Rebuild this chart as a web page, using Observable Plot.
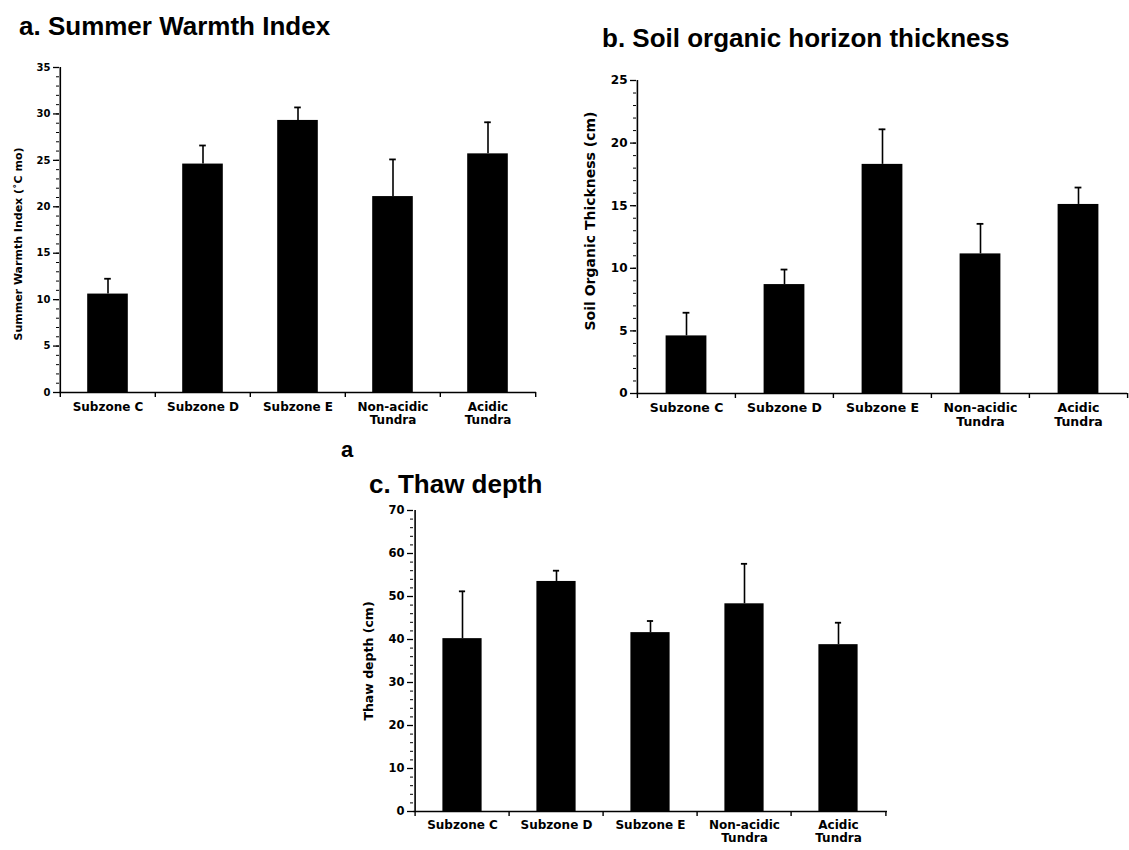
<!DOCTYPE html>
<html><head><meta charset="utf-8">
<script src="https://cdn.jsdelivr.net/npm/d3@7"></script>
<script src="https://cdn.jsdelivr.net/npm/@observablehq/plot@0.6"></script>
<style>
body{margin:0;background:#fff;width:1129px;height:850px;position:relative;overflow:hidden;font-family:"Liberation Sans",Arial,Helvetica,sans-serif;}
.title{position:absolute;font-weight:bold;font-size:26px;color:#000;white-space:nowrap;line-height:1;}
.panel{position:absolute;}
</style></head><body>
<div class="title" style="left:19px;top:13px">a. Summer Warmth Index</div>
<div class="title" style="left:602px;top:25px">b. Soil organic horizon thickness</div>
<div class="title" style="left:369px;top:471px">c. Thaw depth</div>
<div class="title" style="left:341px;top:439px;font-size:22px">a</div>
<div class="panel" id="pa" style="left:0px;top:40px"></div>
<div class="panel" id="pb" style="left:570px;top:60px"></div>
<div class="panel" id="pc" style="left:350px;top:495px"></div>
<script>
const categories = ["Subzone C", "Subzone D", "Subzone E", "Non-acidic Tundra", "Acidic Tundra"];
const categoryLabels = ["Subzone C", "Subzone D", "Subzone E", "Non-acidic\nTundra", "Acidic\nTundra"];

const swiMean = [10.6, 24.6, 29.3, 21.1, 25.7];
const swiErr = [1.65, 2.0, 1.4, 4.0, 3.4];
const swiTicks = [0, 5, 10, 15, 20, 25, 30, 35];

const soilMean = [4.6, 8.7, 18.3, 11.15, 15.1];
const soilErr = [1.85, 1.2, 2.8, 2.4, 1.35];
const soilTicks = [0, 5, 10, 15, 20, 25];

const thawMean = [40.2, 53.5, 41.6, 48.3, 38.8];
const thawErr = [11.0, 2.5, 2.7, 9.3, 5.1];
const thawTicks = [0, 10, 20, 30, 40, 50, 60, 70];

const FONT = "'DejaVu Sans', Verdana, sans-serif";

function panel(o) {
  const n = categories.length;
  const step = (o.width - o.marginLeft - o.marginRight) / n;
  const data = categories.map((c, i) => ({cat: c, label: categoryLabels[i], mean: o.mean[i], err: o.err[i]}));
  const yMax = o.ticks[o.ticks.length - 1];
  const minor = d3.range(0, yMax + 1e-9, o.minorStep);
  const barInset = (step - o.barWidth) / 2;
  return Plot.plot({
    width: o.width, height: o.height,
    marginLeft: o.marginLeft, marginRight: o.marginRight,
    marginTop: o.marginTop, marginBottom: o.marginBottom,
    style: {fontFamily: FONT, fontWeight: "bold", color: "#000", background: "transparent"},
    x: {domain: categories, padding: 0, axis: null},
    y: {domain: [0, yMax], axis: null},
    marks: [
      Plot.axisY({ticks: minor, tickSize: 3, tickFormat: () => "", label: null, strokeWidth: 1}),
      Plot.axisY({ticks: o.ticks, tickSize: 6, tickPadding: 3, label: null, fontSize: o.tickFont, fontWeight: "bold", strokeWidth: 1.3}),
      Plot.barY(data, {x: "cat", y: "mean", fill: "black", insetLeft: barInset, insetRight: barInset}),
      Plot.ruleX(data, {x: "cat", y1: "mean", y2: d => d.mean + d.err, stroke: "black", strokeWidth: 1.6}),
      Plot.tickY(data, {x: "cat", y: d => d.mean + d.err, stroke: "black", strokeWidth: 1.8, inset: (step - 7) / 2}),
      Plot.ruleY([0], {stroke: "black", strokeWidth: 1.6}),
      Plot.ruleX([categories[0]], {x: d => d, dx: -step / 2, stroke: "black", strokeWidth: 1.6}),
      Plot.ruleX(categories, {x: d => d, y1: 0, y2: 0, insetBottom: -5, dx: -step / 2, stroke: "black", strokeWidth: 1.4}),
      Plot.ruleX([categories[n - 1]], {x: d => d, y1: 0, y2: 0, insetBottom: -5, dx: step / 2, stroke: "black", strokeWidth: 1.4}),
      Plot.text(data, {x: "cat", text: "label", frameAnchor: "bottom", lineAnchor: "top", dy: o.labelDy, fontSize: o.catFont, fontWeight: "bold", lineHeight: 1.1, fill: "black"}),
      Plot.text([o.yLabel], {frameAnchor: "left", textAnchor: "middle", rotate: -90, dx: o.yLabelDx, dy: o.yLabelDy, fontSize: o.yLabelFont, fontWeight: "bold", fill: "black"})
    ]
  });
}

document.getElementById("pa").appendChild(panel({
  mean: swiMean, err: swiErr, ticks: swiTicks, minorStep: 1,
  width: 545, height: 410, marginLeft: 59, marginRight: 9, marginTop: 27, marginBottom: 58,
  barWidth: 41, tickFont: 10, catFont: 12, labelDy: 9,
  yLabel: "Summer Warmth Index (\u02DAC mo)", yLabelFont: 11, yLabelDx: -41, yLabelDy: 14
}));

document.getElementById("pb").appendChild(panel({
  mean: soilMean, err: soilErr, ticks: soilTicks, minorStep: 1,
  width: 559, height: 390, marginLeft: 66, marginRight: 2, marginTop: 20, marginBottom: 57,
  barWidth: 41, tickFont: 12, catFont: 12.5, labelDy: 9,
  yLabel: "Soil Organic Thickness (cm)", yLabelFont: 14, yLabelDx: -46, yLabelDy: -16
}));

document.getElementById("pc").appendChild(panel({
  mean: thawMean, err: thawErr, ticks: thawTicks, minorStep: 2,
  width: 560, height: 355, marginLeft: 63, marginRight: 23, marginTop: 15, marginBottom: 39,
  barWidth: 40, tickFont: 11.5, catFont: 12, labelDy: 8,
  yLabel: "Thaw depth (cm)", yLabelFont: 12.5, yLabelDx: -45, yLabelDy: 0
}));
</script>
</body></html>
